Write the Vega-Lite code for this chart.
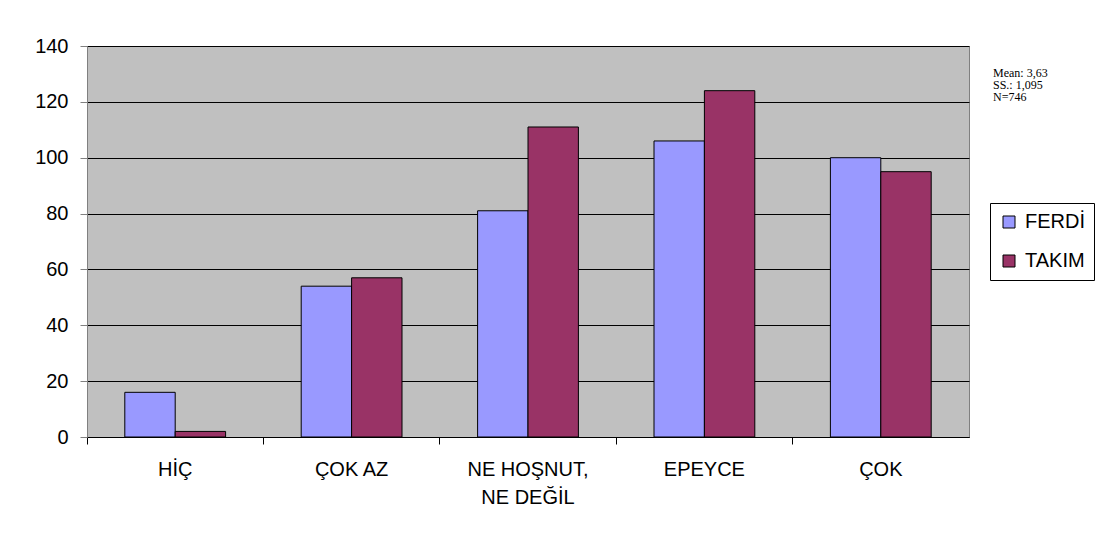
{
  "$schema": "https://vega.github.io/schema/vega-lite/v6.json",
  "width": 882,
  "height": 391,
  "autosize": "none",
  "padding": {"left": 87, "top": 46, "right": 132, "bottom": 102},
  "background": "white",
  "data": {
    "values": [
      {"kategori": "HİÇ", "grup": "FERDİ", "deger": 16},
      {"kategori": "HİÇ", "grup": "TAKIM", "deger": 2},
      {"kategori": "ÇOK AZ", "grup": "FERDİ", "deger": 54},
      {"kategori": "ÇOK AZ", "grup": "TAKIM", "deger": 57},
      {"kategori": "NE HOŞNUT, NE DEĞİL", "grup": "FERDİ", "deger": 81},
      {"kategori": "NE HOŞNUT, NE DEĞİL", "grup": "TAKIM", "deger": 111},
      {"kategori": "EPEYCE", "grup": "FERDİ", "deger": 106},
      {"kategori": "EPEYCE", "grup": "TAKIM", "deger": 124},
      {"kategori": "ÇOK", "grup": "FERDİ", "deger": 100},
      {"kategori": "ÇOK", "grup": "TAKIM", "deger": 95}
    ]
  },
  "title": {
    "text": ["Mean: 3,63", "SS.: 1,095", "N=746"],
    "orient": "top",
    "anchor": "end",
    "frame": "group",
    "align": "left",
    "baseline": "top",
    "offset": 0,
    "dx": 24,
    "dy": 68,
    "font": "Liberation Serif",
    "fontSize": 12,
    "fontWeight": "normal",
    "lineHeight": 12,
    "color": "black"
  },
  "mark": {"type": "bar", "stroke": "black", "strokeWidth": 1},
  "encoding": {
    "x": {
      "field": "kategori",
      "type": "nominal",
      "sort": ["HİÇ", "ÇOK AZ", "NE HOŞNUT, NE DEĞİL", "EPEYCE", "ÇOK"],
      "scale": {"paddingInner": 0, "paddingOuter": 0},
      "axis": {
        "title": null,
        "labelAngle": 0,
        "bandPosition": 0,
        "labelOffset": 0,
        "tickSize": 7,
        "tickColor": "black",
        "domainColor": "black",
        "labelFont": "Liberation Sans",
        "labelFontSize": 20,
        "labelColor": "black",
        "labelPadding": 15,
        "labelLineHeight": 28,
        "labelBaseline": "top",
        "grid": false,
        "labelExpr": "datum.label == 'NE HOŞNUT, NE DEĞİL' ? ['NE HOŞNUT,', 'NE DEĞİL'] : datum.label"
      }
    },
    "xOffset": {
      "field": "grup",
      "sort": ["FERDİ", "TAKIM"],
      "scale": {"paddingInner": 0, "paddingOuter": 0.75}
    },
    "y": {
      "field": "deger",
      "type": "quantitative",
      "scale": {"domain": [0, 140], "nice": false},
      "axis": {
        "title": null,
        "values": [0, 20, 40, 60, 80, 100, 120, 140],
        "tickSize": 7,
        "tickColor": "#808080",
        "domainColor": "#808080",
        "gridColor": "black",
        "gridWidth": 1,
        "labelFont": "Liberation Sans",
        "labelFontSize": 20,
        "labelColor": "black",
        "labelPadding": 12
      }
    },
    "color": {
      "field": "grup",
      "type": "nominal",
      "scale": {"domain": ["FERDİ", "TAKIM"], "range": ["#9999FF", "#993366"]},
      "legend": {
        "title": null,
        "orient": "none",
        "legendX": 903,
        "legendY": 157,
        "strokeColor": "black",
        "fillColor": "white",
        "padding": 9,
        "symbolType": "square",
        "symbolSize": 144,
        "symbolStrokeColor": "black",
        "symbolStrokeWidth": 1,
        "symbolOpacity": 1,
        "labelOffset": 6,
        "labelFont": "Liberation Sans",
        "labelFontSize": 20,
        "labelColor": "black",
        "rowPadding": 19
      }
    }
  },
  "config": {
    "view": {"fill": "#C0C0C0", "stroke": "#808080"}
  }
}
